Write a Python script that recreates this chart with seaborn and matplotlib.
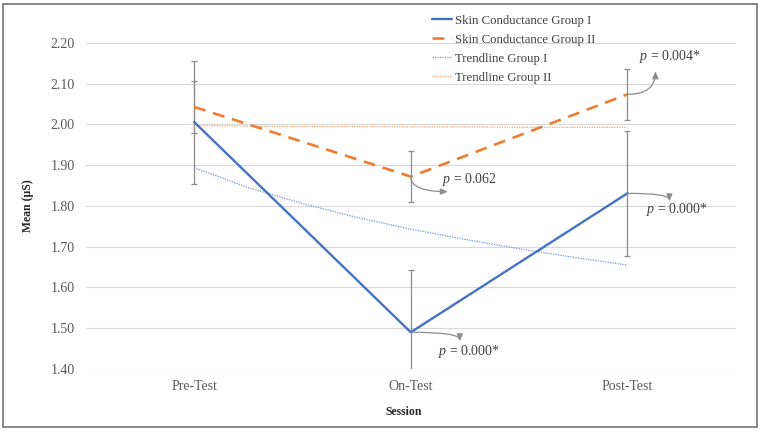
import matplotlib
matplotlib.use("Agg")
import matplotlib.pyplot as plt
from matplotlib.patches import Rectangle
import seaborn as sns
import pandas as pd

# Data
sessions = ["Pre-Test", "On-Test", "Post-Test"]
group1_mean = [2.006, 1.490, 1.831]
group2_mean = [2.043, 1.872, 2.074]
group1_err = [0.151, 0.152, 0.153]
group2_err = [0.064, 0.062, 0.063]

# Trendlines (log fits in the original), sampled along the session axis
trend_x = [0, 0.25, 0.5, 0.75, 1.0, 1.25, 1.5, 1.75, 2.0]
trend1 = [1.894, 1.845, 1.806, 1.772, 1.743, 1.718, 1.695, 1.674, 1.655]
trend2 = [1.997, 1.996, 1.995, 1.995, 1.994, 1.994, 1.993, 1.993, 1.993]

p_labels = ["0.062", "0.004*", "0.000*", "0.000*"]

BLUE = "#4472C4"
ORANGE = "#ED7D31"
GREY = "#595959"

sns.set_theme(style="white")
plt.rcParams["font.family"] = ["Liberation Serif", "DejaVu Serif"]
plt.rcParams["mathtext.fontset"] = "custom"
plt.rcParams["mathtext.it"] = "Liberation Serif:italic"
plt.rcParams["mathtext.rm"] = "Liberation Serif"

fig = plt.figure(figsize=(7.6, 4.32), dpi=100)
ax = fig.add_axes([0.113, 0.146, 0.855, 0.7545])

pos = list(range(len(sessions)))
df = pd.DataFrame({"pos": pos * 2,
                   "mean": group1_mean + group2_mean,
                   "series": ["Skin Conductance Group I"] * 3 + ["Skin Conductance Group II"] * 3})
tr = pd.DataFrame({"pos": trend_x * 2,
                   "mean": trend1 + trend2,
                   "series": ["Trendline Group I"] * len(trend_x) + ["Trendline Group II"] * len(trend_x)})

# error bars (behind the lines)
ax.errorbar(pos, group1_mean, yerr=group1_err, fmt="none", ecolor="#8c8c8c",
            elinewidth=0.9, capsize=2.2, capthick=0.9, zorder=1)
ax.errorbar(pos, group2_mean, yerr=group2_err, fmt="none", ecolor="#8c8c8c",
            elinewidth=0.9, capsize=2.2, capthick=0.9, zorder=1)

sns.lineplot(data=df[df.series == "Skin Conductance Group I"], x="pos", y="mean",
             color=BLUE, lw=1.7, ax=ax, label="Skin Conductance Group I", zorder=3)
sns.lineplot(data=df[df.series == "Skin Conductance Group II"], x="pos", y="mean",
             color=ORANGE, lw=1.9, ax=ax, label="Skin Conductance Group II", zorder=3)
ax.lines[-1].set_dashes([4.5, 3])
sns.lineplot(data=tr[tr.series == "Trendline Group I"], x="pos", y="mean",
             color="#6f95d8", lw=0.9, ax=ax, label="Trendline Group I", zorder=2)
ax.lines[-1].set_dashes([1, 1])
sns.lineplot(data=tr[tr.series == "Trendline Group II"], x="pos", y="mean",
             color="#f4a46e", lw=0.9, ax=ax, label="Trendline Group II", zorder=2)
ax.lines[-1].set_dashes([1, 1])

ax.set_xlim(-0.5, 2.5)
ax.set_ylim(1.40, 2.20)
ax.set_yticks([1.40 + 0.1 * i for i in range(9)])
ax.set_yticklabels([f"{1.40 + 0.1 * i:.2f}" for i in range(9)])
ax.set_xticks(pos)
ax.set_xticklabels(sessions)
ax.tick_params(axis="both", length=0, labelsize=10, labelcolor=GREY, pad=8)
ax.grid(axis="y", color="#d9d9d9", lw=0.8)
ax.grid(axis="x", visible=False)
for s in ax.spines.values():
    s.set_visible(False)

ax.set_xlabel("Session", fontsize=8.5, fontweight="bold", color="#262626")
ax.set_ylabel("Mean (μS)", fontsize=8.5, fontweight="bold", color="#262626")
ax.xaxis.set_label_coords(0.489, -0.115)
ax.yaxis.set_label_coords(-0.08, 0.5)

# p-value callouts: (point, head offset px, text offset px, connection)
callouts = [
    ((1, group2_mean[1]), (37, -15), (31, -3), "angle3,angleA=0,angleB=90"),
    ((2, group2_mean[2]), (28, 23), (12, 38), "angle3,angleA=90,angleB=0"),
    ((2, group1_mean[2]), (42, -8), (19, -16), "angle3,angleA=90,angleB=0"),
    ((1, group1_mean[1]), (49, -9), (27, -19), "angle3,angleA=90,angleB=0"),
]
for (pt, head, toff, conn), lab in zip(callouts, p_labels):
    ax.annotate("", xy=pt, xytext=head, textcoords="offset pixels",
                arrowprops=dict(arrowstyle="<|-,head_length=0.35,head_width=0.15",
                                color="#8c8c8c", lw=0.9, connectionstyle=conn,
                                shrinkA=0, shrinkB=0), zorder=4)
    ax.annotate(f"$p$ = {lab}", xy=pt, xytext=toff, textcoords="offset pixels",
                fontsize=10, color="#404040", ha="left", va="center", zorder=5)

leg = ax.legend(loc="upper left", bbox_to_anchor=(0.568, 0.966),
                bbox_transform=fig.transFigure, frameon=False, fontsize=9.2,
                handlelength=1.6, handletextpad=0.25, labelspacing=0.55,
                borderpad=0, borderaxespad=0)
for t in leg.get_texts():
    t.set_color("#404040")

fig.patches.append(Rectangle((0.004, 0.0116), 0.992, 0.979, transform=fig.transFigure,
                             fill=False, edgecolor="#7f7f7f", lw=1.3))

fig.savefig("out.png", dpi=100)
